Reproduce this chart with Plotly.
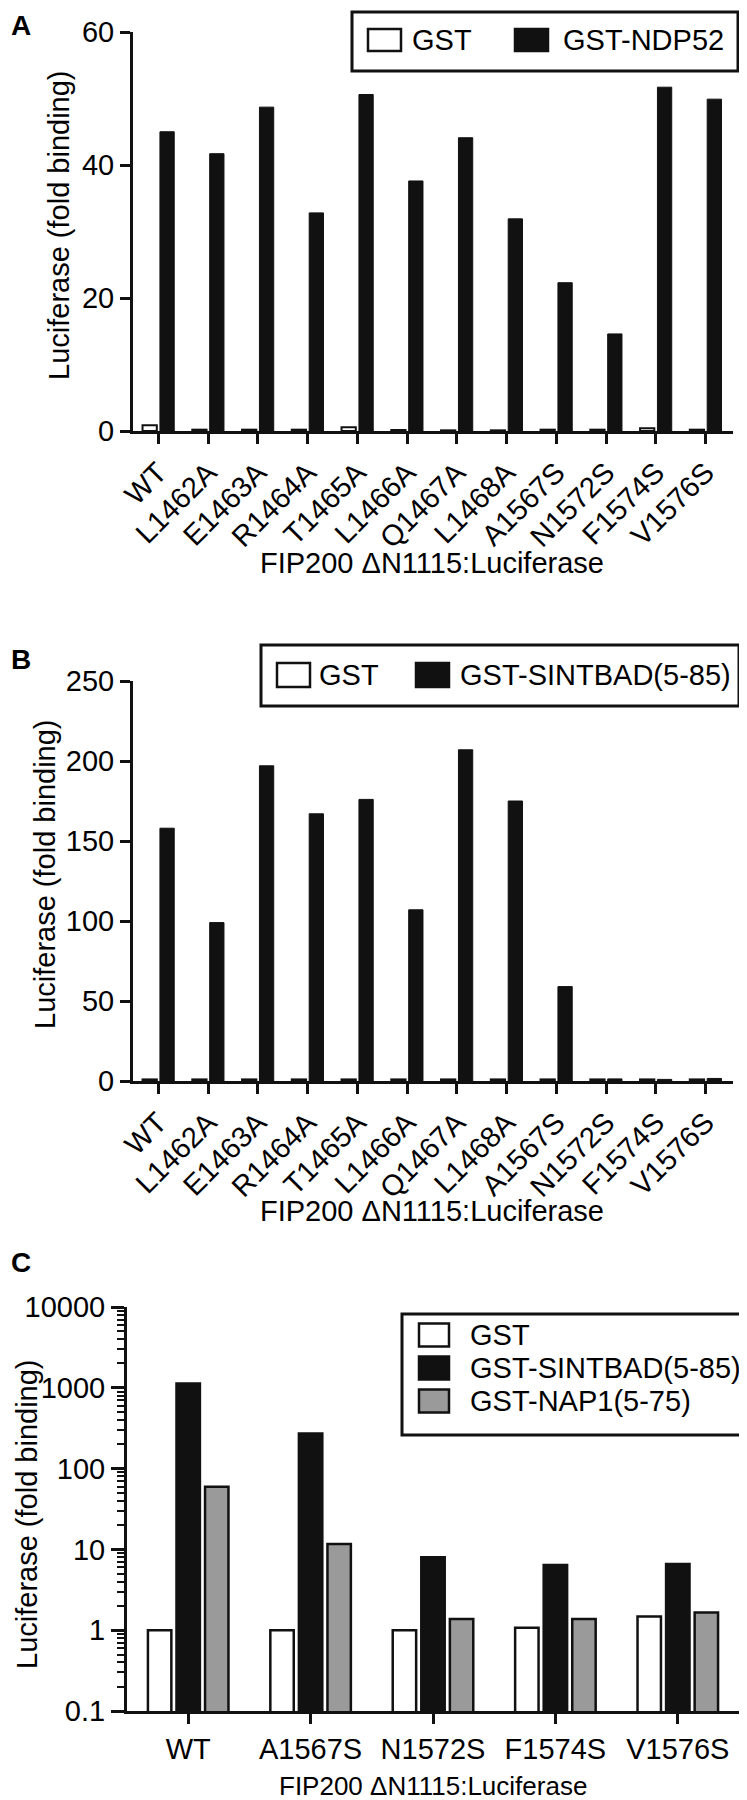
import plotly.graph_objects as go

# ---- data ----
mutants_ab = ["WT", "L1462A", "E1463A", "R1464A", "T1465A", "L1466A",
              "Q1467A", "L1468A", "A1567S", "N1572S", "F1574S", "V1576S"]
gst_a = [0.85, 0.2, 0.2, 0.2, 0.55, 0.15, 0.1, 0.1, 0.2, 0.2, 0.4, 0.2]
ndp52_a = [45.0, 41.7, 48.7, 32.8, 50.6, 37.6, 44.1, 31.9, 22.3, 14.6, 51.7, 49.9]

gst_b = [1.0, 1.0, 1.0, 1.0, 1.0, 1.0, 1.0, 1.0, 1.0, 1.0, 1.0, 1.0]
sintbad_b = [158, 99, 197, 167, 176, 107, 207, 175, 59, 1.3, 1.0, 1.6]

mutants_c = ["WT", "A1567S", "N1572S", "F1574S", "V1576S"]
gst_c = [1.0, 1.0, 1.0, 1.07, 1.48]
sintbad_c = [1130, 271, 8.0, 6.4, 6.6]
nap1_c = [59.5, 11.7, 1.38, 1.38, 1.66]

yticks_c = [0.1, 1, 10, 100, 1000, 10000]
yticklabels_c = ["0.1", "1", "10", "100", "1000", "10000"]

names_a = ["GST", "GST-NDP52"]
names_b = ["GST", "GST-SINTBAD(5-85)"]
names_c = ["GST", "GST-SINTBAD(5-85)", "GST-NAP1(5-75)"]

x_title = "FIP200 \u0394N1115:Luciferase"
y_title = "Luciferase (fold binding)"

# ---- style ----
W, H = 747, 1800
FONT = "Liberation Sans, Arial, Helvetica, sans-serif"
INK = "#111111"
fills = {"GST": "white", "GST-NDP52": INK, "GST-SINTBAD(5-85)": INK, "GST-NAP1(5-75)": "#9a9a9a"}


def px(x):
    return x / W


def py(y):
    return 1 - y / H


fig = go.Figure()


def add_bars(cats, vals, name, xa, ya, lw):
    fig.add_trace(go.Bar(
        x=cats, y=vals, name=name, xaxis=xa, yaxis=ya, showlegend=False,
        marker=dict(color=fills[name], line=dict(color=INK, width=lw)),
    ))


add_bars(mutants_ab, gst_a, names_a[0], "x", "y", 2)
add_bars(mutants_ab, ndp52_a, names_a[1], "x", "y", 1)
add_bars(mutants_ab, gst_b, names_b[0], "x2", "y2", 2)
add_bars(mutants_ab, sintbad_b, names_b[1], "x2", "y2", 1)
add_bars(mutants_c, gst_c, names_c[0], "x3", "y3", 2.5)
add_bars(mutants_c, sintbad_c, names_c[1], "x3", "y3", 2.5)
add_bars(mutants_c, nap1_c, names_c[2], "x3", "y3", 2.5)

axis_style = dict(
    showline=True, linecolor=INK, linewidth=3, ticks="outside", ticklen=10,
    tickwidth=3, tickcolor=INK, showgrid=False, zeroline=False, automargin=False,
    tickfont=dict(size=29, color="black"),
)

fig.update_layout(
    width=W, height=H,
    margin=dict(l=0, r=0, t=0, b=0),
    paper_bgcolor="white", plot_bgcolor="white",
    font=dict(family=FONT, color="black"),
    barmode="group", bargap=0.3, bargroupgap=0.18,
    xaxis=dict(domain=[px(125), px(725)], anchor="y", range=[-0.51, 11.55],
               tickangle=-45, **axis_style),
    yaxis=dict(domain=[py(423), py(24)], anchor="x", range=[0, 60], dtick=20,
               **axis_style),
    xaxis2=dict(domain=[px(125), px(725)], anchor="y2", range=[-0.51, 11.55],
                tickangle=-45, **axis_style),
    yaxis2=dict(domain=[py(1073), py(673)], anchor="x2", range=[0, 250], dtick=50,
                **axis_style),
    xaxis3=dict(domain=[px(119), px(731)], anchor="y3", range=[-0.5, 4.5],
                **axis_style),
    yaxis3=dict(domain=[py(1703), py(1299)], anchor="x3", type="log", range=[-1, 4],
                tickvals=yticks_c, ticktext=yticklabels_c,
                minor=dict(dtick="D1", ticks="outside", ticklen=7, tickwidth=2,
                           tickcolor=INK),
                **{**axis_style, "ticklen": 13}),
)

ann = []
shapes = []


def text(x, y, s, size=29, xanchor="center", angle=0, bold=False):
    ann.append(dict(
        x=px(x), y=py(y), xref="paper", yref="paper", text=f"<b>{s}</b>" if bold else s,
        showarrow=False, xanchor=xanchor, yanchor="middle", textangle=angle,
        font=dict(size=size, family=FONT, color="black"),
    ))


def rect(x0, y0, x1, y1, fill="rgba(0,0,0,0)", lw=3):
    shapes.append(dict(
        type="rect", xref="paper", yref="paper", x0=px(x0), x1=px(x1),
        y0=py(y1), y1=py(y0), fillcolor=fill, line=dict(color=INK, width=lw),
    ))


# panel letters
text(1, 17, "A", size=28, xanchor="left", bold=True)
text(1, 651, "B", size=28, xanchor="left", bold=True)
text(1, 1254, "C", size=28, xanchor="left", bold=True)

# axis titles
text(51, 217, y_title, angle=-90)
text(37, 866, y_title, angle=-90)
text(19, 1506, y_title, angle=-90)
text(424, 555, x_title)
text(424, 1203, x_title)
text(425, 1778, x_title, size=26)

# legend A (one row)
rect(344, 4, 730, 63)
for name, sx, tx in zip(names_a, [360, 507], [402, 553]):
    rect(sx, 21, sx + 33, 43, fill=fills[name], lw=2.5)
    text(tx, 32, name, xanchor="left")

# legend B (one row)
rect(253, 637, 731, 698)
for name, sx, tx in zip(names_b, [269, 408], [309, 450]):
    rect(sx, 655, sx + 33, 679, fill=fills[name], lw=2.5)
    text(tx, 667, name, xanchor="left")

# legend C (stacked)
rect(394, 1306, 734, 1427)
for name, cy in zip(names_c, [1327, 1360, 1393]):
    rect(411, cy - 11.5, 441, cy + 11.5, fill=fills[name], lw=2.5)
    text(460, cy, name, xanchor="left")

fig.update_layout(annotations=ann, shapes=shapes)

fig.write_html("out.html")
